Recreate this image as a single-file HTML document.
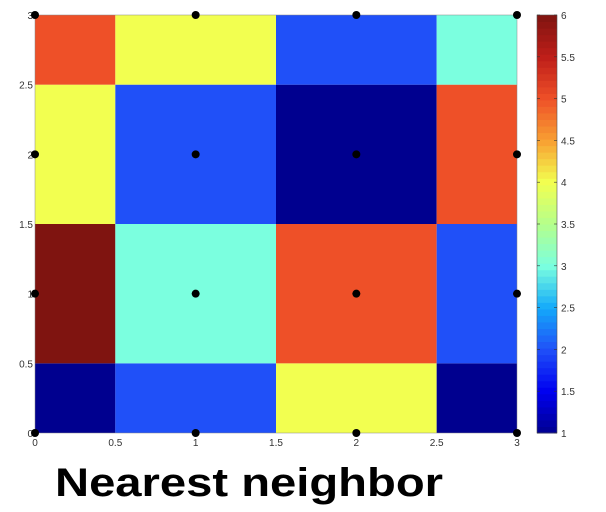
<!DOCTYPE html>
<html><head><meta charset="utf-8"><style>body{margin:0;background:#fff}svg{display:block}</style></head>
<body>
<svg id="c" width="606" height="512" xmlns="http://www.w3.org/2000/svg" font-family="Liberation Sans, sans-serif"></svg>
<script>
const xPoints=[0,1,2,3];
const yPoints=[0,1,2,3];
// values[yIndex][xIndex]
const row0=[1,2,4,1];
const row1=[6,3,5,2];
const row2=[4,2,1,5];
const row3=[5,4,2,3];
const values=[row0,row1,row2,row3];
const xTicks=["0","0.5","1","1.5","2","2.5","3"];
const yTicks=["0","0.5","1","1.5","2","2.5","3"];
const cbTicks=["1","1.5","2","2.5","3","3.5","4","4.5","5","5.5","6"];
const NS="http://www.w3.org/2000/svg";
const svg=document.getElementById('c');
const X0=35,X1=517,Y0=433,Y1=15;
const xs=v=>X0+(v-0)/3*(X1-X0);
const ys=v=>Y0-(v-0)/3*(Y0-Y1);
const vmin=1,vmax=6;
const stops=[[0,[0,0,143]],[0.1,[0,0,240]],[0.2,[32,80,248]],[0.3,[20,170,250]],[0.4,[123,255,223]],[0.5,[180,255,140]],[0.6,[242,255,80]],[0.7,[248,160,50]],[0.8,[238,80,40]],[0.9,[190,30,25]],[1,[127,20,16]]];
function jet(t){t=Math.max(0,Math.min(1,t));
 for(let i=1;i<stops.length;i++){if(t<=stops[i][0]){const a=stops[i-1],b=stops[i];const f=(t-a[0])/(b[0]-a[0]);
  const c=a[1].map((v,k)=>Math.round(v+(b[1][k]-v)*f));return `rgb(${c[0]},${c[1]},${c[2]})`;}}
 return 'rgb(127,20,16)';}
function el(t,a){const e=document.createElementNS(NS,t);for(const k in a)e.setAttribute(k,a[k]);svg.appendChild(e);return e;}
const g=el('g',{});


for(let j=0;j<yPoints.length;j++)for(let i=0;i<xPoints.length;i++){
 const xa=Math.max(0,xPoints[i]-0.5),xb=Math.min(3,xPoints[i]+0.5);
 const ya=Math.max(0,yPoints[j]-0.5),yb=Math.min(3,yPoints[j]+0.5);
 const r=document.createElementNS(NS,'rect');
 r.setAttribute('x',xs(xa));r.setAttribute('y',ys(yb));
 r.setAttribute('width',xs(xb)-xs(xa));r.setAttribute('height',ys(ya)-ys(yb));
 r.setAttribute('fill',jet((values[j][i]-vmin)/(vmax-vmin)));
 
 
 g.appendChild(r);
}
const ax=el('rect',{x:X0,y:Y1,width:X1-X0,height:Y0-Y1,fill:'none',stroke:'#888','stroke-width':0.5});


xTicks.forEach(t=>{const e=el('text',{x:xs(+t),y:446,'font-size':10,'text-anchor':'middle',fill:'#333'});e.textContent=t;

});
yTicks.forEach(t=>{const e=el('text',{x:X0-2,y:ys(+t)+4,'font-size':10,'text-anchor':'end',fill:'#333'});e.textContent=t;

});
yPoints.forEach(yv=>xPoints.forEach(xv=>{const d=el('circle',{cx:xs(xv),cy:ys(yv),r:4,fill:'#000'});

}));
const CX=537,CW=20;
const cy=v=>Y0-(v-vmin)/(vmax-vmin)*(Y0-Y1);
const cb=el('g',{});


const N=64;
for(let k=0;k<N;k++){const r=document.createElementNS(NS,'rect');
 const va=vmin+k*(vmax-vmin)/N,vb=vmin+(k+1)*(vmax-vmin)/N;
 r.setAttribute('x',CX);r.setAttribute('y',cy(vb));r.setAttribute('width',CW);r.setAttribute('height',cy(va)-cy(vb)+0.5);
 r.setAttribute('fill',jet((k+0.5)/N));cb.appendChild(r);}
el('rect',{x:CX,y:Y1,width:CW,height:Y0-Y1,fill:'none',stroke:'#555','stroke-width':0.6});
cbTicks.forEach(t=>{const y=cy(+t);
 el('line',{x1:CX,x2:CX+3,y1:y,y2:y,stroke:'#333','stroke-width':0.6});
 el('line',{x1:CX+CW-3,x2:CX+CW,y1:y,y2:y,stroke:'#333','stroke-width':0.6});
 const e=el('text',{x:CX+CW+4,y:y+4,'font-size':10,fill:'#333'});e.textContent=t;
 
 });
const tt=el('text',{x:55,y:496,'font-size':40,'font-weight':'bold',fill:'#000',textLength:388,lengthAdjust:'spacingAndGlyphs'});
tt.textContent='Nearest neighbor';


</script>
</body></html>
